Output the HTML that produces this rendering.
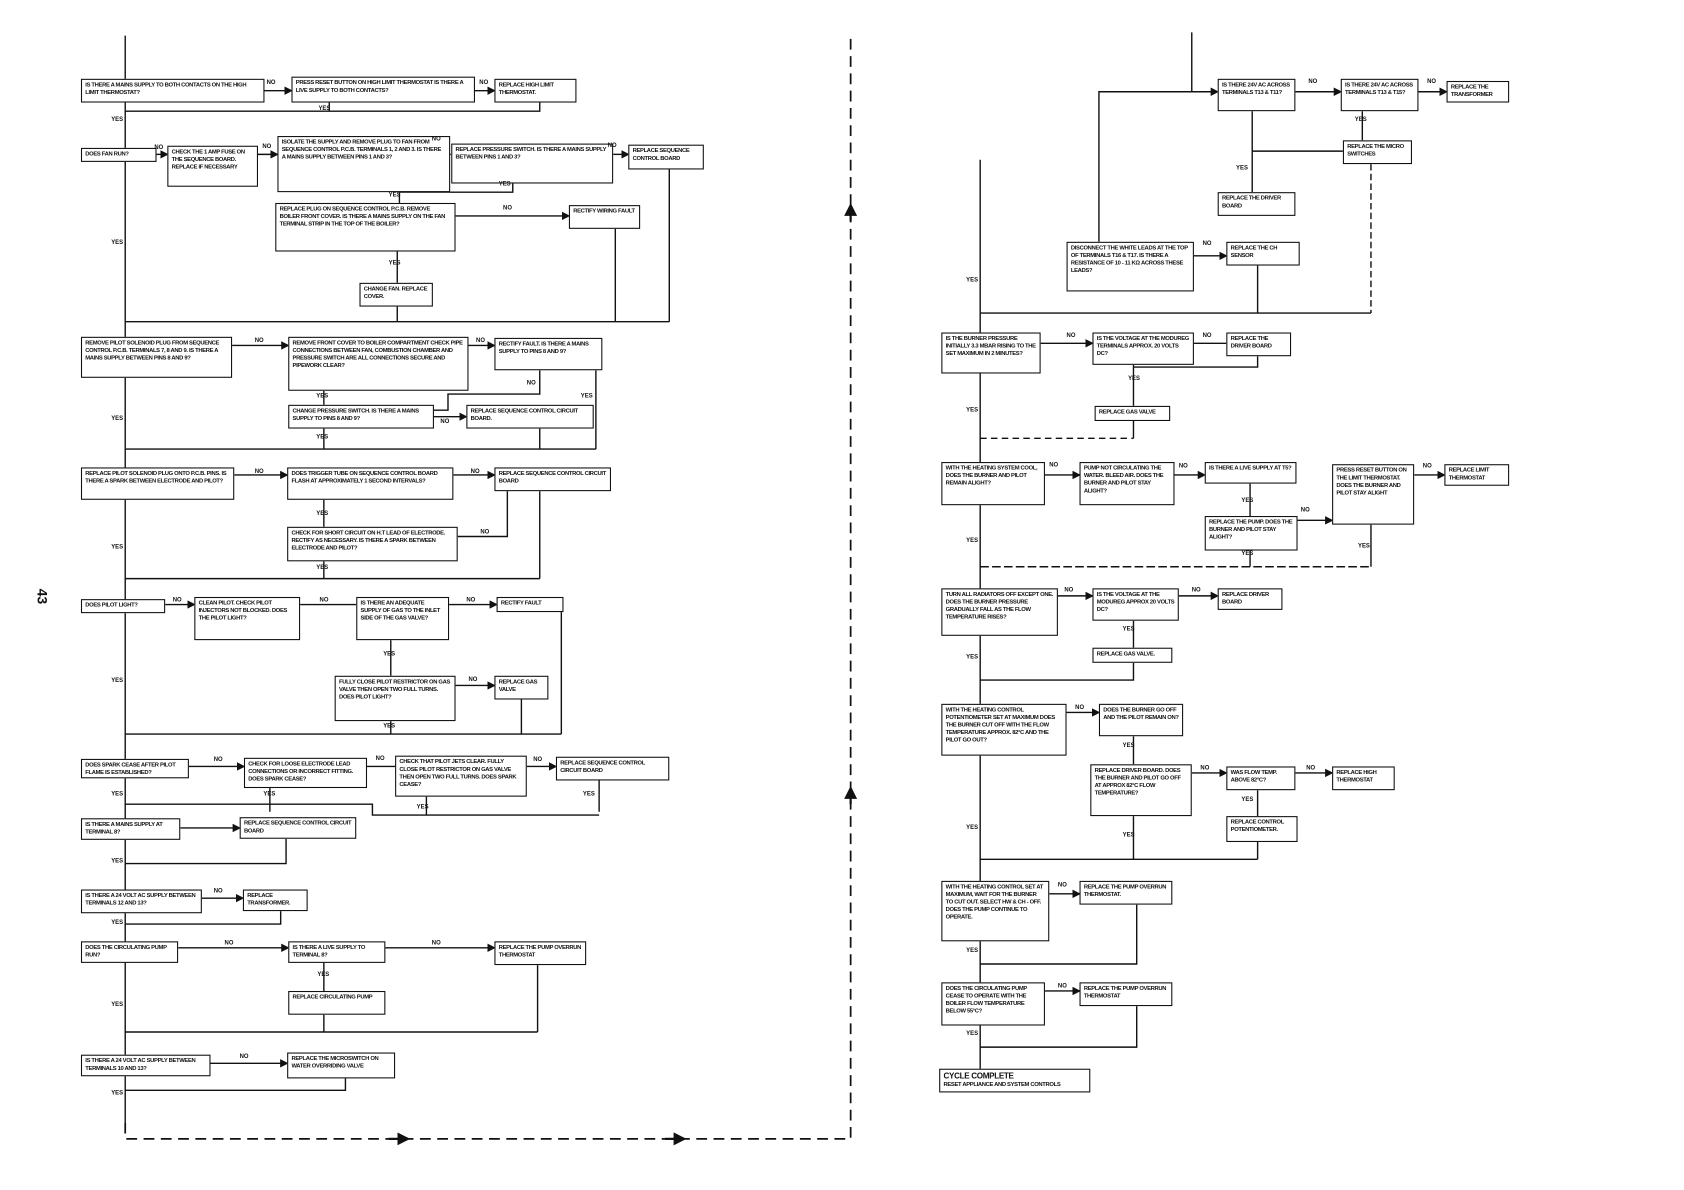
<!DOCTYPE html>
<html><head><meta charset="utf-8"><style>
html,body{margin:0;padding:0;background:#fff;width:1684px;height:1190px;overflow:hidden}
#c{position:absolute;left:0;top:0;width:1560px;height:1102px;transform:scale(1.0795);transform-origin:0 0}
svg{position:absolute;left:0;top:0}
.b{position:absolute;box-sizing:border-box;border:1.3px solid #111;background:#fff;font-family:"Liberation Sans Narrow","Liberation Sans",sans-serif;font-weight:bold;font-size:5.4px;line-height:7px;padding:2px 3px;color:#111;overflow:hidden;text-transform:uppercase;letter-spacing:-0.3px}
.l{position:absolute;font-family:"Liberation Sans Narrow","Liberation Sans",sans-serif;font-weight:bold;font-size:5.5px;color:#111}
</style></head><body><div id="c">
<svg width="1560" height="1102" viewBox="0 0 1560 1102" fill="none" stroke="#111" stroke-width="1.3">
<defs><marker id="a" markerWidth="6" markerHeight="6" refX="5" refY="3" orient="auto"><path d="M0 0L6 3L0 6z" fill="#111" stroke="none"/></marker></defs>
<g>
<path d="M116 33V1040"/>
<path d="M245 84H270" marker-end="url(#a)"/><path d="M440 84H458" marker-end="url(#a)"/>
<path d="M500 95V103H116"/><path d="M305 95V103"/>
<path d="M145 143H155" marker-end="url(#a)"/><path d="M239 143H257" marker-end="url(#a)"/><path d="M417 143H418"/><path d="M568 143H582" marker-end="url(#a)"/>
<path d="M620 157V298"/><path d="M370 178V188"/><path d="M475 170V178H370"/>
<path d="M422 200H527" marker-end="url(#a)"/><path d="M570 212V298"/><path d="M368 233V262"/><path d="M368 284V298"/>
<path d="M116 298H620"/>
<path d="M215 320H267" marker-end="url(#a)"/><path d="M434 320H458" marker-end="url(#a)"/>
<path d="M500 343V365H415V380H402"/><path d="M552 343V416"/><path d="M300 362V375"/>
<path d="M402 386H432" marker-end="url(#a)"/><path d="M500 397V416"/><path d="M300 397V416"/><path d="M116 416H552"/>
<path d="M217 440H266" marker-end="url(#a)"/><path d="M420 440H458" marker-end="url(#a)"/>
<path d="M300 463V488"/><path d="M424 497H470V455"/><path d="M500 455V536"/><path d="M300 520V536"/><path d="M116 536H500"/>
<path d="M153 560H180" marker-end="url(#a)"/><path d="M278 560H330"/><path d="M416 560H460" marker-end="url(#a)"/>
<path d="M520 560V680"/><path d="M362 593V626"/><path d="M422 635H458" marker-end="url(#a)"/><path d="M483 648V680"/><path d="M362 668V680"/><path d="M116 680H520"/>
<path d="M175 710H226" marker-end="url(#a)"/><path d="M340 710H366"/><path d="M488 710H515" marker-end="url(#a)"/>
<path d="M555 723V752"/><path d="M250 730V752"/><path d="M395 738V755"/><path d="M116 745H345V755H555"/>
<path d="M167 767H222" marker-end="url(#a)"/><path d="M265 777V800H116"/>
<path d="M187 832H225" marker-end="url(#a)"/><path d="M260 844V856H116"/>
<path d="M165 878H267" marker-end="url(#a)"/><path d="M357 878H458" marker-end="url(#a)"/>
<path d="M498 894V956"/><path d="M300 892V918"/><path d="M300 940V956"/><path d="M116 956H498"/>
<path d="M195 985H266" marker-end="url(#a)"/><path d="M320 999V1010H116"/>
<path d="M116 1040V1055H788V30" stroke-dasharray="10 6" stroke-width="1.6"/>
<path d="M360 1055H378" marker-end="url(#a)" stroke-width="2"/><path d="M616 1055H634" marker-end="url(#a)" stroke-width="2"/>
<path d="M788 205V190" marker-end="url(#a)" stroke-width="2"/><path d="M788 745V730" marker-end="url(#a)" stroke-width="2"/>

<path d="M1104 30V85H1128" marker-end="url(#a)"/><path d="M1018 224V85H1104"/>
<path d="M1200 85H1242" marker-end="url(#a)"/><path d="M1314 85H1340" marker-end="url(#a)"/>
<path d="M1262 103V130"/><path d="M1244 140H1160"/><path d="M1160 103V178"/>
<path d="M1270 152V290" stroke-dasharray="6 3"/>
<path d="M1106 237H1136" marker-end="url(#a)"/><path d="M1165 246V290"/>
<path d="M908 148V1000"/><path d="M908 290H1270"/>
<path d="M964 318H1012" marker-end="url(#a)"/><path d="M1106 318H1136"/><path d="M1165 330V340H1050"/>
<path d="M1050 338V376"/><path d="M1050 390V406"/><path d="M908 406H1050" stroke-dasharray="6 4"/>
<path d="M968 440H1000" marker-end="url(#a)"/><path d="M1088 440H1116" marker-end="url(#a)"/><path d="M1310 440H1338" marker-end="url(#a)"/>
<path d="M1158 448V478"/><path d="M1202 482H1234" marker-end="url(#a)"/><path d="M1158 510V525"/><path d="M1270 486V525"/>
<path d="M908 525H1270" stroke-dasharray="8 3"/>
<path d="M980 552H1012" marker-end="url(#a)"/><path d="M1092 552H1128" marker-end="url(#a)"/>
<path d="M1050 575V600"/><path d="M1050 614V630H908"/>
<path d="M988 660H1018" marker-end="url(#a)"/><path d="M1050 682V708"/>
<path d="M1104 716H1136" marker-end="url(#a)"/><path d="M1200 716H1234" marker-end="url(#a)"/>
<path d="M1165 732V756"/><path d="M1165 780V796"/><path d="M1050 756V796"/><path d="M908 796H1165"/>
<path d="M972 828H1000" marker-end="url(#a)"/><path d="M1053 838V893H908"/>
<path d="M968 918H1000" marker-end="url(#a)"/><path d="M1053 932V970H908"/>
</g></svg>

<div class="l" style="left:32px;top:545px;font-size:13px;transform:rotate(90deg)">43</div>

<div class="b" style="left:75px;top:73px;width:170px;height:22px">Is there a mains supply to both contacts on the high limit thermostat?</div>
<div class="b" style="left:270px;top:71px;width:170px;height:24px">Press reset button on high limit thermostat is there a live supply to both contacts?</div>
<div class="b" style="left:458px;top:73px;width:76px;height:22px">Replace high limit thermostat.</div>
<div class="b" style="left:75px;top:137px;width:70px;height:13px">Does fan run?</div>
<div class="b" style="left:155px;top:135px;width:84px;height:38px">Check the 1 amp fuse on the sequence board. Replace if necessary</div>
<div class="b" style="left:257px;top:126px;width:160px;height:52px">Isolate the supply and remove plug to fan from sequence control P.C.B. terminals 1, 2 and 3. Is there a mains supply between pins 1 and 3?</div>
<div class="b" style="left:418px;top:133px;width:150px;height:37px">Replace pressure switch. Is there a mains supply between pins 1 and 3?</div>
<div class="b" style="left:582px;top:134px;width:70px;height:23px">Replace sequence control board</div>
<div class="b" style="left:255px;top:188px;width:167px;height:45px">Replace plug on sequence control P.C.B. Remove boiler front cover. Is there a mains supply on the fan terminal strip in the top of the boiler?</div>
<div class="b" style="left:527px;top:190px;width:66px;height:22px">Rectify wiring fault</div>
<div class="b" style="left:333px;top:262px;width:68px;height:22px">Change fan. Replace cover.</div>
<div class="b" style="left:75px;top:312px;width:140px;height:38px">Remove pilot solenoid plug from sequence control P.C.B. terminals 7, 8 and 9. Is there a mains supply between pins 8 and 9?</div>
<div class="b" style="left:267px;top:312px;width:167px;height:50px">Remove front cover to boiler compartment check pipe connections between fan, combustion chamber and pressure switch are all connections secure and pipework clear?</div>
<div class="b" style="left:458px;top:313px;width:100px;height:30px">Rectify fault. Is there a mains supply to pins 8 and 9?</div>
<div class="b" style="left:267px;top:375px;width:135px;height:22px">Change pressure switch. Is there a mains supply to pins 8 and 9?</div>
<div class="b" style="left:432px;top:375px;width:118px;height:22px">Replace sequence control circuit board.</div>
<div class="b" style="left:75px;top:433px;width:142px;height:30px">Replace pilot solenoid plug onto P.C.B. pins. Is there a spark between electrode and pilot?</div>
<div class="b" style="left:266px;top:433px;width:154px;height:30px">Does trigger tube on sequence control board flash at approximately 1 second intervals?</div>
<div class="b" style="left:458px;top:433px;width:108px;height:22px">Replace sequence control circuit board</div>
<div class="b" style="left:266px;top:488px;width:158px;height:32px">Check for short circuit on H.T lead of electrode. Rectify as necessary. Is there a spark between electrode and pilot?</div>
<div class="b" style="left:75px;top:555px;width:78px;height:13px">Does pilot light?</div>
<div class="b" style="left:180px;top:553px;width:98px;height:40px">Clean pilot. Check pilot injectors not blocked. Does the pilot light?</div>
<div class="b" style="left:330px;top:553px;width:86px;height:40px">Is there an adequate supply of gas to the inlet side of the gas valve?</div>
<div class="b" style="left:460px;top:553px;width:62px;height:14px">Rectify fault</div>
<div class="b" style="left:310px;top:626px;width:112px;height:42px">Fully close pilot restrictor on gas valve then open two full turns. Does pilot light?</div>
<div class="b" style="left:458px;top:626px;width:50px;height:22px">Replace gas valve</div>
<div class="b" style="left:75px;top:703px;width:100px;height:18px">Does spark cease after pilot flame is established?</div>
<div class="b" style="left:226px;top:702px;width:114px;height:28px">Check for loose electrode lead connections or incorrect fitting. Does spark cease?</div>
<div class="b" style="left:366px;top:700px;width:122px;height:38px">Check that pilot jets clear. Fully close pilot restrictor on gas valve then open two full turns. Does spark cease?</div>
<div class="b" style="left:515px;top:701px;width:105px;height:22px">Replace sequence control circuit board</div>
<div class="b" style="left:75px;top:758px;width:92px;height:20px">Is there a mains supply at terminal 8?</div>
<div class="b" style="left:222px;top:757px;width:108px;height:20px">Replace sequence control circuit board</div>
<div class="b" style="left:75px;top:824px;width:112px;height:22px">Is there a 24 volt AC supply between terminals 12 and 13?</div>
<div class="b" style="left:225px;top:824px;width:60px;height:20px">Replace transformer.</div>
<div class="b" style="left:75px;top:872px;width:90px;height:20px">Does the circulating pump run?</div>
<div class="b" style="left:267px;top:872px;width:90px;height:20px">Is there a live supply to terminal 8?</div>
<div class="b" style="left:458px;top:872px;width:85px;height:22px">Replace the pump overrun thermostat</div>
<div class="b" style="left:267px;top:918px;width:90px;height:22px">Replace circulating pump</div>
<div class="b" style="left:75px;top:977px;width:120px;height:20px">Is there a 24 volt AC supply between terminals 10 and 13?</div>
<div class="b" style="left:266px;top:975px;width:100px;height:24px">Replace the microswitch on water overriding valve</div>

<div class="b" style="left:1128px;top:73px;width:72px;height:30px">Is there 24V AC across terminals T13 &amp; T11?</div>
<div class="b" style="left:1242px;top:73px;width:72px;height:30px">Is there 24V AC across terminals T13 &amp; T15?</div>
<div class="b" style="left:1340px;top:75px;width:58px;height:20px">Replace the transformer</div>
<div class="b" style="left:1244px;top:130px;width:64px;height:22px">Replace the micro switches</div>
<div class="b" style="left:1128px;top:178px;width:72px;height:22px">Replace the driver board</div>
<div class="b" style="left:988px;top:224px;width:118px;height:46px">Disconnect the white leads at the top of terminals T16 &amp; T17. Is there a resistance of 10 - 11 kΩ across these leads?</div>
<div class="b" style="left:1136px;top:224px;width:68px;height:22px">Replace the CH sensor</div>
<div class="b" style="left:872px;top:308px;width:92px;height:38px">Is the burner pressure initially 3.3 mbar rising to the set maximum in 2 minutes?</div>
<div class="b" style="left:1012px;top:308px;width:94px;height:30px">Is the voltage at the modureg terminals approx. 20 volts DC?</div>
<div class="b" style="left:1136px;top:308px;width:60px;height:22px">Replace the driver board</div>
<div class="b" style="left:1014px;top:376px;width:70px;height:14px">Replace gas valve</div>
<div class="b" style="left:872px;top:428px;width:96px;height:40px">With the heating system cool, does the burner and pilot remain alight?</div>
<div class="b" style="left:1000px;top:428px;width:88px;height:40px">Pump not circulating the water. Bleed air. Does the burner and pilot stay alight?</div>
<div class="b" style="left:1116px;top:428px;width:85px;height:20px">Is there a live supply at T5?</div>
<div class="b" style="left:1234px;top:430px;width:76px;height:56px">Press reset button on the limit thermostat. Does the burner and pilot stay alight</div>
<div class="b" style="left:1338px;top:430px;width:60px;height:20px">Replace limit thermostat</div>
<div class="b" style="left:1116px;top:478px;width:86px;height:32px">Replace the pump. Does the burner and pilot stay alight?</div>
<div class="b" style="left:872px;top:545px;width:108px;height:44px">Turn all radiators off except one. Does the burner pressure gradually fall as the flow temperature rises?</div>
<div class="b" style="left:1012px;top:545px;width:80px;height:30px">Is the voltage at the modureg approx 20 volts DC?</div>
<div class="b" style="left:1128px;top:545px;width:60px;height:20px">Replace driver board</div>
<div class="b" style="left:1012px;top:600px;width:74px;height:14px">Replace gas valve.</div>
<div class="b" style="left:872px;top:652px;width:116px;height:48px">With the heating control potentiometer set at maximum does the burner cut off with the flow temperature approx. 82°C and the pilot go out?</div>
<div class="b" style="left:1018px;top:652px;width:78px;height:30px">Does the burner go off and the pilot remain on?</div>
<div class="b" style="left:1010px;top:708px;width:94px;height:48px">Replace driver board. Does the burner and pilot go off at approx 82°C flow temperature?</div>
<div class="b" style="left:1136px;top:710px;width:64px;height:22px">Was flow temp. above 82°C?</div>
<div class="b" style="left:1234px;top:710px;width:58px;height:22px">Replace high thermostat</div>
<div class="b" style="left:1136px;top:756px;width:66px;height:24px">Replace control potentiometer.</div>
<div class="b" style="left:872px;top:816px;width:100px;height:56px">With the heating control set at maximum, wait for the burner to cut out. Select HW &amp; CH - off. Does the pump continue to operate.</div>
<div class="b" style="left:1000px;top:816px;width:86px;height:22px">Replace the pump overrun thermostat.</div>
<div class="b" style="left:872px;top:910px;width:96px;height:40px">Does the circulating pump cease to operate with the boiler flow temperature below 55°C?</div>
<div class="b" style="left:1000px;top:910px;width:86px;height:22px">Replace the pump overrun thermostat</div>
<div class="b" style="left:870px;top:990px;width:140px;height:22px;font-size:5.4px;line-height:7px;padding-top:1px"><span style="font-size:7.5px;line-height:9px">CYCLE COMPLETE</span><br>Reset appliance and system controls</div>

<div class="l" style="left:247px;top:74px">NO</div><div class="l" style="left:444px;top:74px">NO</div><div class="l" style="left:295px;top:98px">YES</div><div class="l" style="left:103px;top:108px">YES</div>
<div class="l" style="left:143px;top:134px">NO</div><div class="l" style="left:243px;top:133px">NO</div><div class="l" style="left:400px;top:126px">NO</div><div class="l" style="left:563px;top:132px">NO</div>
<div class="l" style="left:462px;top:168px">YES</div><div class="l" style="left:360px;top:178px">YES</div><div class="l" style="left:466px;top:190px">NO</div><div class="l" style="left:360px;top:241px">YES</div><div class="l" style="left:103px;top:222px">YES</div>
<div class="l" style="left:236px;top:313px">NO</div><div class="l" style="left:441px;top:313px">NO</div><div class="l" style="left:488px;top:352px">NO</div><div class="l" style="left:538px;top:364px">YES</div><div class="l" style="left:293px;top:364px">YES</div><div class="l" style="left:408px;top:388px">NO</div><div class="l" style="left:293px;top:402px">YES</div><div class="l" style="left:103px;top:385px">YES</div>
<div class="l" style="left:236px;top:434px">NO</div><div class="l" style="left:436px;top:434px">NO</div><div class="l" style="left:293px;top:473px">YES</div><div class="l" style="left:445px;top:490px">NO</div><div class="l" style="left:293px;top:523px">YES</div><div class="l" style="left:103px;top:504px">YES</div>
<div class="l" style="left:160px;top:553px">NO</div><div class="l" style="left:296px;top:553px">NO</div><div class="l" style="left:432px;top:553px">NO</div><div class="l" style="left:355px;top:603px">YES</div><div class="l" style="left:434px;top:627px">NO</div><div class="l" style="left:355px;top:670px">YES</div><div class="l" style="left:103px;top:628px">YES</div>
<div class="l" style="left:198px;top:701px">NO</div><div class="l" style="left:348px;top:700px">NO</div><div class="l" style="left:494px;top:701px">NO</div><div class="l" style="left:244px;top:733px">YES</div><div class="l" style="left:386px;top:745px">YES</div><div class="l" style="left:540px;top:733px">YES</div><div class="l" style="left:103px;top:733px">YES</div>
<div class="l" style="left:103px;top:795px">YES</div><div class="l" style="left:198px;top:823px">NO</div><div class="l" style="left:103px;top:852px">YES</div>
<div class="l" style="left:208px;top:871px">NO</div><div class="l" style="left:400px;top:871px">NO</div><div class="l" style="left:294px;top:900px">YES</div><div class="l" style="left:103px;top:928px">YES</div>
<div class="l" style="left:222px;top:976px">NO</div><div class="l" style="left:103px;top:1010px">YES</div>
<div class="l" style="left:1212px;top:73px">NO</div><div class="l" style="left:1322px;top:73px">NO</div><div class="l" style="left:1255px;top:108px">YES</div><div class="l" style="left:1145px;top:153px">YES</div><div class="l" style="left:1114px;top:223px">NO</div><div class="l" style="left:895px;top:257px">YES</div>
<div class="l" style="left:988px;top:308px">NO</div><div class="l" style="left:1114px;top:308px">NO</div><div class="l" style="left:1045px;top:348px">YES</div><div class="l" style="left:895px;top:377px">YES</div>
<div class="l" style="left:972px;top:428px">NO</div><div class="l" style="left:1092px;top:429px">NO</div><div class="l" style="left:1150px;top:461px">YES</div><div class="l" style="left:1205px;top:470px">NO</div><div class="l" style="left:1318px;top:429px">NO</div><div class="l" style="left:1258px;top:503px">YES</div><div class="l" style="left:1150px;top:510px">YES</div><div class="l" style="left:895px;top:498px">YES</div>
<div class="l" style="left:986px;top:544px">NO</div><div class="l" style="left:1104px;top:544px">NO</div><div class="l" style="left:1040px;top:580px">YES</div><div class="l" style="left:895px;top:606px">YES</div>
<div class="l" style="left:996px;top:653px">NO</div><div class="l" style="left:1040px;top:688px">YES</div><div class="l" style="left:1112px;top:709px">NO</div><div class="l" style="left:1210px;top:709px">NO</div><div class="l" style="left:1150px;top:738px">YES</div><div class="l" style="left:1040px;top:771px">YES</div><div class="l" style="left:895px;top:764px">YES</div>
<div class="l" style="left:980px;top:817px">NO</div><div class="l" style="left:895px;top:878px">YES</div><div class="l" style="left:980px;top:911px">NO</div><div class="l" style="left:895px;top:955px">YES</div>
</div></body></html>
